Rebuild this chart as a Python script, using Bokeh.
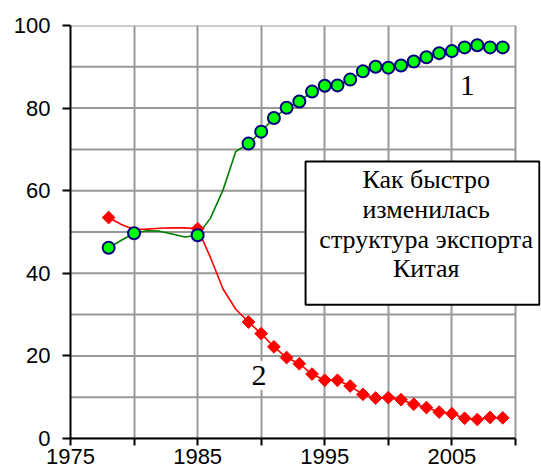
from bokeh.plotting import figure
from bokeh.models import Range1d, FixedTicker, Label, BoxAnnotation
from bokeh.embed import file_html
from bokeh.resources import INLINE

# ---- data ----
years = list(range(1978, 2010))
# series 1 (green, circles)
share1 = [46.2, 48.0, 49.7, 50.3, 50.2, 49.5, 48.8, 49.2, 53.3, 60.2, 69.5,
          71.4, 74.3, 77.6, 80.1, 81.6, 84.0, 85.4, 85.5, 86.9, 88.9, 90.0,
          89.8, 90.3, 91.3, 92.3, 93.3, 93.8, 94.7, 95.2, 94.7, 94.7]
# series 2 (red, diamonds)
share2 = [53.5, 51.8, 50.6, 50.7, 50.9, 51.0, 51.0, 50.8, 43.9, 36.2, 31.3,
          28.2, 25.4, 22.2, 19.6, 18.1, 15.6, 14.1, 14.1, 12.7, 10.7, 9.8,
          9.9, 9.4, 8.3, 7.5, 6.4, 6.0, 4.9, 4.6, 5.1, 5.0]
marker_years1 = [1978, 1980, 1985] + list(range(1989, 2010))
marker_years2 = [1978, 1985] + list(range(1989, 2010))

x_ticks = [1975, 1980, 1985, 1990, 1995, 2000, 2005, 2010]
x_tick_labels = ["1975", "", "1985", "", "1995", "", "2005", ""]
y_ticks = [0, 20, 40, 60, 80, 100]
y_grid = [0, 10, 20, 30, 40, 50, 60, 70, 80, 90, 100]

series_names = ["1", "2"]
title_text = "Как быстро\nизменилась\nструктура экспорта\nКитая"

x_start, x_end = 1975, 2010

# ---- figure ----
# frame spans a little past 2010 so the caption box can reach the page edge
p = figure(width=541, height=473, output_backend="svg", toolbar_location=None,
           x_range=Range1d(1975, 2011.97), y_range=Range1d(0, 100),
           min_border_left=70, min_border_right=1, min_border_top=25,
           min_border_bottom=35)
p.background_fill_color = "white"
p.border_fill_color = "white"
p.outline_line_color = None

grid_col = "#999999"
p.xgrid.ticker = FixedTicker(ticks=x_ticks)
p.xgrid.grid_line_color = grid_col
p.xgrid.grid_line_width = 2
p.ygrid.grid_line_color = None
# horizontal grid lines (and top border) limited to the 1975-2010 plot area
p.segment(x0=[x_start] * len(y_grid), y0=y_grid,
          x1=[x_end] * len(y_grid), y1=y_grid,
          line_color=grid_col, line_width=2)

ax = p.xaxis[0]
ax.ticker = FixedTicker(ticks=x_ticks)
ax.bounds = (x_start, x_end)
ax.major_label_overrides = {t: l for t, l in zip(x_ticks, x_tick_labels)}
ay = p.yaxis[0]
ay.ticker = FixedTicker(ticks=y_ticks)
for a in (ax, ay):
    a.axis_line_color = "black"
    a.axis_line_width = 2
    a.major_tick_line_color = "black"
    a.major_tick_line_width = 2
    a.major_tick_in = 0
    a.minor_tick_line_color = None
    a.major_label_text_font = "Liberation Sans"
    a.major_label_text_font_size = "22px"
    a.major_label_text_color = "black"
ax.major_tick_out = 7
ax.major_label_standoff = 3
ay.major_tick_out = 8
ay.major_label_standoff = 12

# lines
p.line(years, share1, line_color="#008000", line_width=1.6)
p.line(years, share2, line_color="#ff0000", line_width=1.6)

d1 = dict(zip(years, share1))
d2 = dict(zip(years, share2))
p.scatter(marker_years2, [d2[y] for y in marker_years2], marker="square",
          angle=0.7854, size=9, fill_color="#ff0000", line_color="#ff0000",
          line_width=1)
p.scatter(marker_years1, [d1[y] for y in marker_years1], marker="circle",
          size=12, fill_color="#00ff00", line_color="#000080", line_width=2)

# series number labels
for name, xx, yy in zip(series_names, [2006.2, 1989.83], [85.5, 15.3]):
    p.add_layout(Label(x=xx, y=yy, text=name, text_align="center",
                       text_baseline="middle",
                       text_font="Liberation Serif",
                       text_font_size="30px", text_color="black",
                       background_fill_color="white", padding=5))

# caption box
p.add_layout(BoxAnnotation(left=1993.49, right=2011.88, bottom=32.4, top=67.1,
                           fill_color="white", fill_alpha=1.0,
                           line_color="black", line_alpha=1.0, line_width=2))
p.add_layout(Label(x=2002.98, y=51.9, text=title_text, text_align="center",
                   text_baseline="middle", text_font="Liberation Serif",
                   text_font_size="26px", text_color="black",
                   text_line_height=1.03))

open("out.html", "w").write(file_html(p, INLINE))
